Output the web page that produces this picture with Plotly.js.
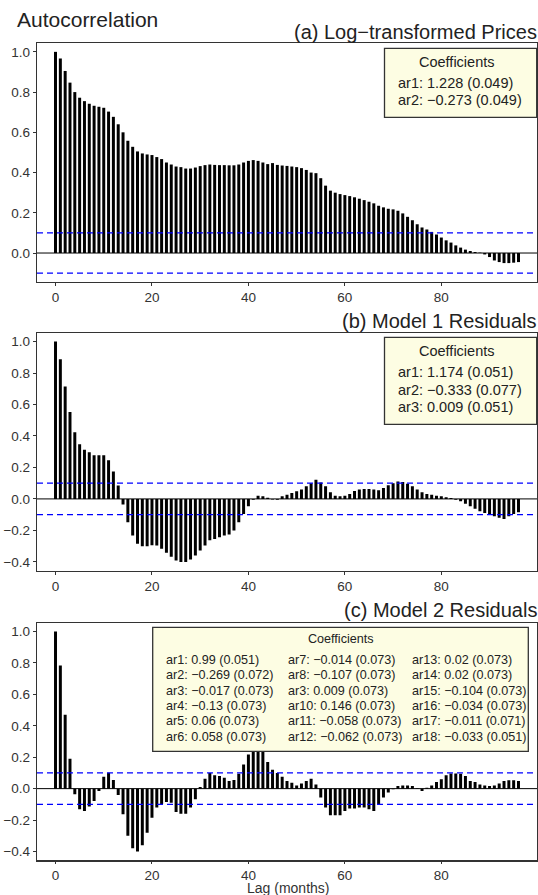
<!DOCTYPE html>
<html><head><meta charset="utf-8">
<script src="https://cdn.plot.ly/plotly-3.0.1.min.js"></script>
<style>html,body{margin:0;padding:0;background:#fff}</style>
</head><body><div id="chart" style="width:538px;height:895px"></div>
<script>
// ---- data ----
const acfLogPrices = [
  1.0, 0.967, 0.905, 0.847, 0.80, 0.772, 0.755, 0.742, 0.732, 0.727,
  0.722, 0.703, 0.677, 0.64, 0.60, 0.558, 0.528, 0.505, 0.495, 0.49,
  0.487, 0.477, 0.467, 0.45, 0.44, 0.43, 0.427, 0.42, 0.42, 0.425,
  0.432, 0.437, 0.44, 0.438, 0.437, 0.437, 0.436, 0.436, 0.44, 0.45,
  0.458, 0.462, 0.458, 0.45, 0.442, 0.447, 0.438, 0.435, 0.433, 0.43,
  0.427, 0.422, 0.413, 0.40, 0.397, 0.372, 0.335, 0.31, 0.30, 0.293,
  0.288, 0.283, 0.277, 0.27, 0.263, 0.255, 0.247, 0.235, 0.227, 0.22,
  0.217, 0.21, 0.197, 0.18, 0.163, 0.143, 0.127, 0.117, 0.105, 0.092,
  0.077, 0.063, 0.052, 0.038, 0.027, 0.017, 0.01, 0.005, 0.002, -0.007,
  -0.02, -0.037, -0.045, -0.05, -0.05, -0.048, -0.045
];
const acfModel1 = [
  1.0, 0.888, 0.715, 0.552, 0.423, 0.347, 0.313, 0.296, 0.277, 0.277,
  0.277, 0.245, 0.175, 0.085, -0.036, -0.148, -0.233, -0.285, -0.30, -0.30,
  -0.294, -0.296, -0.317, -0.342, -0.368, -0.391, -0.40, -0.40, -0.385, -0.36,
  -0.327, -0.296, -0.262, -0.254, -0.243, -0.233, -0.226, -0.20, -0.148, -0.095,
  -0.047, -0.005, 0.02, 0.017, 0.008, -0.003, -0.005, 0.017, 0.027, 0.038,
  0.049, 0.06, 0.08, 0.10, 0.122, 0.105, 0.08, 0.042, 0.02, 0.017,
  0.02, 0.032, 0.05, 0.06, 0.063, 0.063, 0.06, 0.055, 0.07, 0.087,
  0.10, 0.11, 0.108, 0.097, 0.08, 0.06, 0.042, 0.032, 0.027, 0.02,
  0.017, 0.01, 0.006, -0.005, -0.015, -0.03, -0.047, -0.063, -0.078, -0.089,
  -0.10, -0.11, -0.12, -0.127, -0.11, -0.095, -0.085
];
const acfModel2 = [
  1.0, 0.784, 0.471, 0.19, -0.036, -0.131, -0.142, -0.114, -0.078, -0.015,
  0.076, 0.101, 0.055, -0.04, -0.163, -0.30, -0.38, -0.40, -0.36, -0.28,
  -0.186, -0.12, -0.10, -0.085, -0.089, -0.148, -0.159, -0.159, -0.12, -0.068,
  0.01, 0.063, 0.10, 0.085, 0.08, 0.07, 0.049, 0.055, 0.095, 0.154,
  0.218, 0.27, 0.28, 0.25, 0.17, 0.12, 0.10, 0.076, 0.049, 0.038,
  0.02, 0.032, 0.049, 0.063, 0.027, -0.057, -0.12, -0.169, -0.169, -0.169,
  -0.142, -0.127, -0.127, -0.12, -0.12, -0.131, -0.142, -0.10, -0.057, -0.025,
  -0.004, 0.017, 0.02, 0.02, 0.017, 0.002, -0.015, 0.006, 0.02, 0.042,
  0.06, 0.085, 0.097, 0.097, 0.095, 0.08, 0.049, 0.042, 0.027, 0.02,
  0.017, 0.02, 0.032, 0.049, 0.053, 0.053, 0.049
];
const confLimit = 0.1;
const xTickVals = [0, 20, 40, 60, 80];
const yTicksA = [0.0, 0.2, 0.4, 0.6, 0.8, 1.0];
const yTicksBC = [-0.4, -0.2, 0.0, 0.2, 0.4, 0.6, 0.8, 1.0];
const mainTitle = "Autocorrelation";
const panelTitles = ["(a) Log\u2212transformed Prices", "(b) Model 1 Residuals", "(c) Model 2 Residuals"];
const xAxisTitle = "Lag (months)";
const legendTitle = "Coefficients";
const coefA = ["ar1: 1.228 (0.049)", "ar2: \u22120.273 (0.049)"];
const coefB = ["ar1: 1.174 (0.051)", "ar2: \u22120.333 (0.077)", "ar3: 0.009 (0.051)"];
const coefC1 = ["ar1: 0.99 (0.051)", "ar2: \u22120.269 (0.072)", "ar3: \u22120.017 (0.073)", "ar4: \u22120.13 (0.073)", "ar5: 0.06 (0.073)", "ar6: 0.058 (0.073)"];
const coefC2 = ["ar7: \u22120.014 (0.073)", "ar8: \u22120.107 (0.073)", "ar3: 0.009 (0.073)", "ar10: 0.146 (0.073)", "ar11: \u22120.058 (0.073)", "ar12: \u22120.062 (0.073)"];
const coefC3 = ["ar13: 0.02 (0.073)", "ar14: 0.02 (0.073)", "ar15: \u22120.104 (0.073)", "ar16: \u22120.034 (0.073)", "ar17: \u22120.011 (0.071)", "ar18: \u22120.033 (0.051)"];

// ---- layout helpers ----
const W = 538, H = 895, ML = 37, MR = 1;
const PW = W - ML - MR;
const px = x => (x - ML) / PW;
const py = y => 1 - y / H;
const FONT = "Liberation Sans, Arial, sans-serif";
const lags = Array.from({length: acfLogPrices.length}, (_, i) => i);
const xRange = [-3.84, 99.84];

function barTrace(vals, n) {
  return {type: 'bar', x: lags, y: vals, width: 0.62,
    marker: {color: '#000', line: {width: 0}},
    xaxis: 'x' + (n === 1 ? '' : n), yaxis: 'y' + (n === 1 ? '' : n),
    hoverinfo: 'skip', showlegend: false};
}
const data = [barTrace(acfLogPrices, 1), barTrace(acfModel1, 2), barTrace(acfModel2, 3)];

function xAx(anchor) {
  return {domain: [0, 1], range: xRange, anchor: anchor, tickvals: xTickVals,
    ticks: 'outside', ticklen: 3, tickwidth: 1, tickcolor: '#333',
    showline: true, mirror: true, linecolor: '#333', linewidth: 1.2,
    showgrid: false, zeroline: false,
    tickfont: {family: FONT, size: 13.5, color: '#333'}};
}
function yAx(anchor, dom, range, ticks) {
  return {domain: dom, range: range, anchor: anchor, tickvals: ticks, tickformat: '.1f',
    ticks: 'outside', ticklen: 3, tickwidth: 1, tickcolor: '#333',
    showline: true, mirror: true, linecolor: '#333', linewidth: 1.2,
    showgrid: false, zeroline: false,
    tickfont: {family: FONT, size: 13.5, color: '#333'}};
}

const shapes = [];
const yrefs = ['y', 'y2', 'y3'];
yrefs.forEach(yr => {
  shapes.push({type: 'line', xref: 'paper', yref: yr, x0: 0, x1: 1, y0: 0, y1: 0,
    line: {color: '#000', width: 1}});
  [confLimit, -confLimit].forEach(c => shapes.push({type: 'line', xref: 'paper', yref: yr,
    x0: 0, x1: 1, y0: c, y1: c, line: {color: '#0000ff', width: 1.3, dash: '6px,4px'}}));
});
function box(x0, y0, x1, y1) {
  shapes.push({type: 'rect', xref: 'paper', yref: 'paper', x0: px(x0), x1: px(x1), y0: py(y1), y1: py(y0),
    fillcolor: '#fdfde3', line: {color: '#333', width: 1.3}, layer: 'above'});
}
box(384.5, 48.3, 536.7, 117.3);
box(384.5, 337.3, 536.7, 424.3);
box(152.7, 627.3, 528.3, 751.3);

const ann = [];
function txt(t, x, y, size, anchor, color) {
  ann.push({text: t, xref: 'paper', yref: 'paper', x: px(x), y: py(y), xanchor: anchor || 'left',
    yanchor: 'middle', showarrow: false, borderpad: 0,
    font: {family: FONT, size: size, color: color || '#222'}});
}
txt(mainTitle, 15.5, 19.5, 21, 'left');
txt(panelTitles[0], 538, 32.3, 20, 'right');
txt(panelTitles[1], 538, 321, 20, 'right');
txt(panelTitles[2], 538, 610.3, 20, 'right');
txt(xAxisTitle, 287.5, 887.5, 14, 'center', '#333');

txt(legendTitle, 456.5, 61.5, 14.5, 'center');
coefA.forEach((t, i) => txt(t, 397, 82.7 + i * 17.3, 14.5));
txt(legendTitle, 456.5, 350.7, 14.5, 'center');
coefB.forEach((t, i) => txt(t, 397, 372.5 + i * 17.2, 14.5));
txt(legendTitle, 340.5, 639.3, 12.6, 'center');
[coefC1, coefC2, coefC3].forEach((col, j) => {
  const xs = [164.5, 287.3, 410.5][j];
  col.forEach((t, i) => txt(t, xs, 659.8 + i * 15.35, 12.6));
});

const layout = {
  width: W, height: H, margin: {l: ML, r: MR, t: 0, b: 0},
  paper_bgcolor: '#fff', plot_bgcolor: '#fff',
  showlegend: false, hovermode: false,
  font: {family: FONT},
  xaxis: xAx('y'), xaxis2: xAx('y2'), xaxis3: Object.assign(xAx('y3'), {ticklen: 2}),
  yaxis: yAx('x', [py(282), py(43)], [-0.144, 1.044], yTicksA),
  yaxis2: yAx('x2', [py(570.7), py(332.7)], [-0.456, 1.056], yTicksBC),
  yaxis3: yAx('x3', [py(860.3), py(622.7)], [-0.456, 1.056], yTicksBC),
  shapes: shapes, annotations: ann
};
Plotly.newPlot('chart', data, layout, {staticPlot: true, displayModeBar: false});
</script></body></html>
